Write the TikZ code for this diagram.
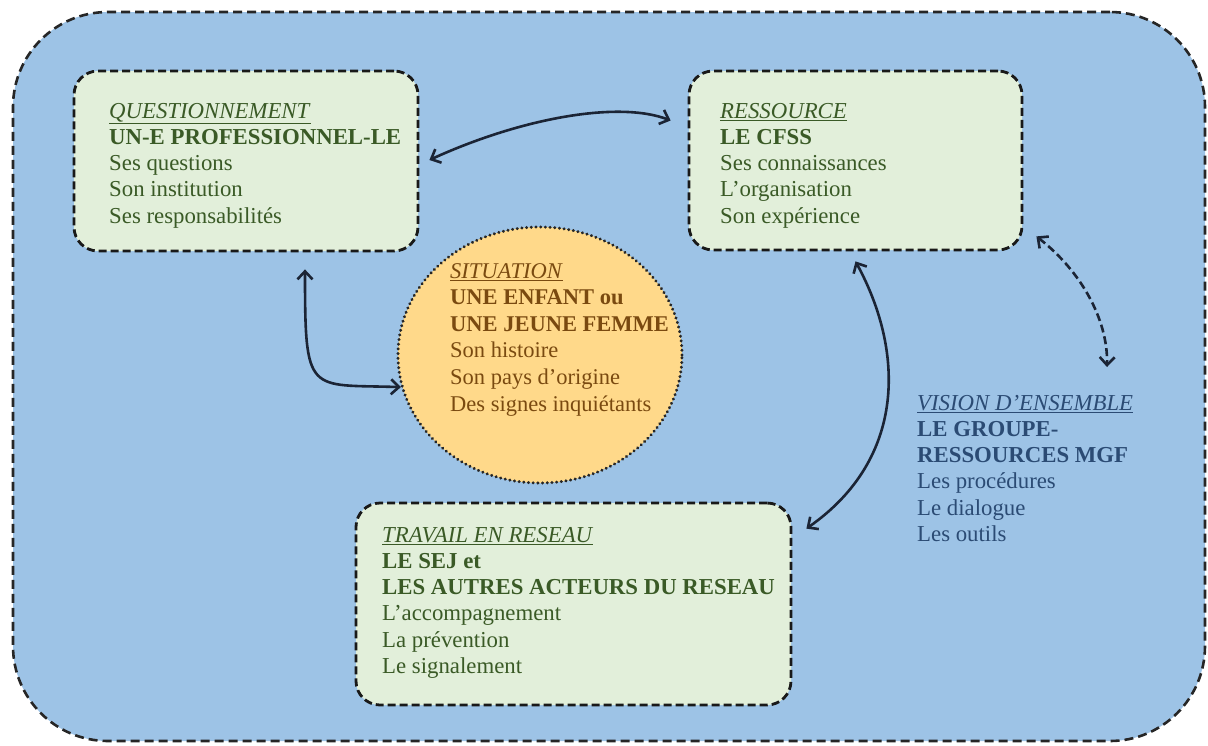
\documentclass[tikz,border=0pt]{standalone}
\usepackage{fontspec}
\setmainfont{Liberation Serif}
\usetikzlibrary{arrows.meta,shapes.geometric}
\definecolor{bgblue}{HTML}{9DC3E6}
\definecolor{boxgreen}{HTML}{E2EFDA}
\definecolor{circfill}{HTML}{FFD98A}
\definecolor{txtgreen}{HTML}{3A5A26}
\definecolor{txtbrown}{HTML}{7A4A10}
\definecolor{txtblue}{HTML}{2B4B74}
\definecolor{arrowc}{HTML}{1B2435}
\begin{document}
\begin{tikzpicture}[x=1pt,y=-1pt,
  frame/.style={draw=black!85, line width=2.6pt, dash pattern=on 9pt off 5pt, fill=bgblue, rounded corners=95pt, minimum width=1192pt, minimum height=729pt, inner sep=0pt},
  gbox/.style={draw=black!90, line width=2.8pt, dash pattern=on 8pt off 4pt, fill=boxgreen, rounded corners=24pt, inner sep=0pt},
  circbox/.style={ellipse, draw=black!85, line width=3.2pt, dash pattern=on 0.1pt off 4.6pt, line cap=round, fill=circfill, inner sep=0pt, minimum width=284pt, minimum height=256pt},
  txt/.style={anchor=north west, inner sep=0pt, align=left, font=\fontsize{22.8}{26.2}\selectfont, text=txtgreen},
  conn/.style={draw=arrowc, line width=2.6pt, {Straight Barb[length=8pt,width=15pt]}-{Straight Barb[length=8pt,width=15pt]}},
  dconn/.style={conn, dash pattern=on 8pt off 4pt}
]
\useasboundingbox (0,0) rectangle (1208,745);
\node[frame] (frame) at (609,376.5) {};
% boxes
\node[gbox, minimum width=344pt, minimum height=180pt] (q) at (246,161) {};
\node[gbox, minimum width=333pt, minimum height=179pt] (r) at (855.5,160.5) {};
\node[gbox, minimum width=435pt, minimum height=202pt] (t) at (573.5,604) {};
\node[circbox] (s) at (540,355) {};
% texts
\node[txt] (qt) at (109,103) {\underline{\textit{QUESTIONNEMENT}}\\ \textbf{UN-E PROFESSIONNEL-LE}\\ Ses questions\\ Son institution\\ Ses responsabilités};
\node[txt] (rt) at (720,103) {\underline{\textit{RESSOURCE}}\\ \textbf{LE CFSS}\\ Ses connaissances\\ L’organisation\\ Son expérience};
\node[txt, text=txtbrown, font=\fontsize{22.5}{26.6}\selectfont] (st) at (450,263) {\underline{\textit{SITUATION}}\\ \textbf{UNE ENFANT ou}\\ \textbf{UNE JEUNE FEMME}\\ Son histoire\\ Son pays d’origine\\ Des signes inquiétants};
\node[txt] (tt) at (382,527) {\underline{\textit{TRAVAIL EN RESEAU}}\\ \textbf{LE SEJ et}\\ \textbf{LES AUTRES ACTEURS DU RESEAU}\\ L’accompagnement\\ La prévention\\ Le signalement};
\node[txt, text=txtblue] (v) at (917,395) {\underline{\textit{VISION D’ENSEMBLE}}\\ \textbf{LE GROUPE-}\\ \textbf{RESSOURCES MGF}\\ Les procédures\\ Le dialogue\\ Les outils};
% connectors
\draw[conn] ([xshift=10pt,yshift=1pt]q.east) .. controls +(92pt,42pt) and +(-52pt,20pt) .. ([xshift=-17pt,yshift=40pt]r.west);
\draw[conn] ([xshift=59pt,yshift=-17pt]q.south) .. controls +(0pt,-127pt) and +(-93pt,3pt) .. (s.193);
\draw[conn] ([yshift=-10pt]r.south) .. controls +(49pt,-90pt) and +(100pt,70pt) .. ([xshift=14pt,yshift=-27pt]t.north east);
\draw[dconn] ([xshift=13pt,yshift=15pt]r.south east) .. controls +(45pt,-35pt) and +(1pt,47pt) .. ([xshift=190pt,yshift=28pt]v.north west);
\end{tikzpicture}
\end{document}
